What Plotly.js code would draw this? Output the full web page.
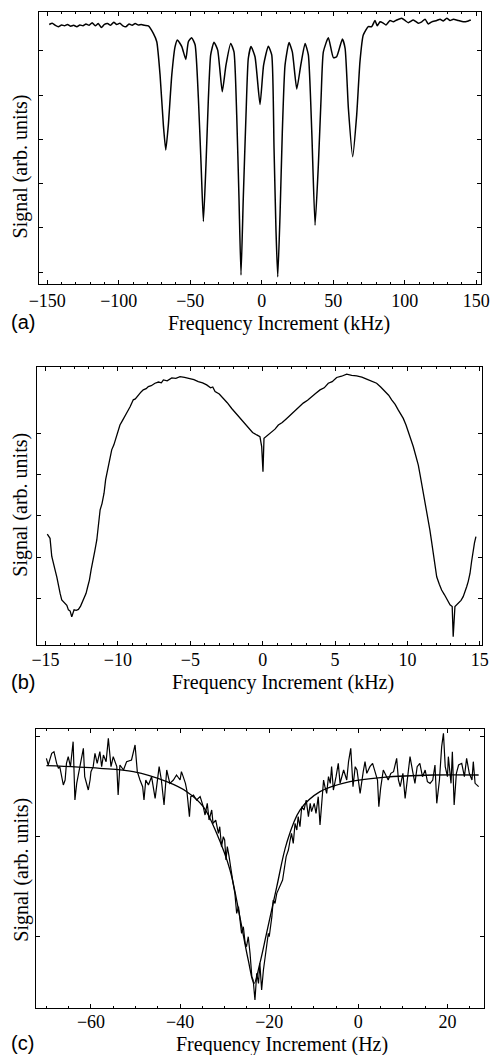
<!DOCTYPE html>
<html>
<head>
<meta charset="utf-8">
<script src="https://cdn.plot.ly/plotly-3.0.1.min.js"></script>
<style>html,body{margin:0;padding:0;background:#fff;}#plot{width:491px;height:1055px;}</style>
</head>
<body>
<div id="plot"></div>
<script>
// ---------- Panel (a): frequency increment (kHz) vs signal ----------
const aFreq = [-148.6,-146.5,-144.3,-142.2,-140.0,-137.9,-135.8,-133.6,-131.5,-129.3,-127.2,-125.0,-122.9,-120.7,-118.6,-116.4,-114.3,-112.1,-110.0,-107.8,-105.7,-103.5,-101.4,-99.2,-97.1,-94.9,-92.8,-90.6,-88.5,-86.3,-84.2,-82.0,-79.3,
  -75.8,-73.4,-71.1,-68.8,-67.1,-65.3,-62.9,-60.6,-59.0,-55.9,-53.1,-51.3,-49.0,-46.6,-44.3,-42.4,-40.8,-39.0,-37.3,-35.7,-33.4,-30.8,-27.6,-25.0,-21.7,-19.4,-17.5,-15.9,-14.5,-12.9,-11.0,-9.4,-7.5,-4.7,-1.2,1.3,4.6,7.0,8.6,10.0,11.2,12.8,14.4,16.3,19.1,21.4,24.5,27.3,30.3,32.6,35.0,37.3,39.6,41.5,43.1,46.6,50.1,52.4,56.4,58.3,60.6,63.6,66.4,68.7,71.0,
  74.5,76.9,79.2,80.8,82.7,85.0,86.9,89.7,92.0,94.4,97.9,100.2,102.5,106.0,109.5,111.9,114.2,116.5,118.9,122.4,124.7,127.0,129.4,131.7,134.0,137.5,141.0,144.5,146.2];
const aSignal = [6.60,6.63,6.58,6.55,6.59,6.57,6.60,6.56,6.58,6.55,6.59,6.57,6.61,6.58,6.64,6.57,6.62,6.53,6.60,6.62,6.58,6.65,6.60,6.63,6.57,6.55,6.61,6.58,6.62,6.59,6.60,6.58,6.57,
  6.40,6.21,5.46,4.33,3.76,4.33,5.46,6.10,6.25,6.10,5.81,6.21,6.30,6.14,4.93,3.42,2.14,3.42,4.93,5.91,6.20,6.02,5.08,5.68,6.17,5.98,4.55,2.67,0.93,2.67,4.55,5.83,6.10,5.87,4.79,5.68,6.11,5.91,3.80,1.91,0.89,2.29,4.17,5.68,6.19,5.98,5.14,5.68,6.17,5.91,4.17,2.06,3.42,4.93,5.98,6.30,5.85,5.87,6.27,6.06,4.70,3.61,4.55,5.76,6.36,
  6.55,6.55,6.69,6.57,6.66,6.63,6.59,6.69,6.66,6.70,6.74,6.69,6.64,6.70,6.63,6.66,6.72,6.61,6.66,6.69,6.72,6.68,6.74,6.69,6.72,6.69,6.66,6.68,6.70];
const aTickX = [-150,-100,-50,0,50,100,150];
const aTickY = [1,2,3,4,5,6];

// ---------- Panel (b) ----------
const bFreq = [-14.88,-14.69,-14.57,-14.45,-14.34,-14.22,-14.11,-13.99,-13.88,-13.76,-13.65,-13.53,-13.42,-13.30,-13.19,-13.11,-13.03,-12.88,-12.73,-12.58,-12.43,-12.30,-12.20,-12.08,-11.97,-11.85,-11.74,-11.60,-11.46,-11.35,-11.23,-11.10,-10.96,-10.85,-10.73,-10.58,-10.43,-10.28,-10.13,-10.00,-9.86,-9.70,-9.51,-9.35,-9.16,-9.05,-8.94,-8.80,-8.59,-8.40,-8.25,-8.05,-7.90,-7.70,-7.44,-7.20,-7.00,-6.86,-6.60,-6.28,-6.00,-5.71,-5.40,-5.02,-4.75,-4.45,-4.15,-3.87,-3.60,-3.45,-3.29,-3.00,-2.72,-2.45,-2.14,-1.85,-1.57,-1.30,-0.99,-0.70,-0.41,-0.19,-0.07,0.02,0.09,0.28,0.45,0.62,0.85,1.08,1.35,1.66,1.95,2.23,2.50,2.80,3.10,3.38,3.65,3.96,4.25,4.53,4.80,5.11,5.45,5.80,6.15,6.49,6.85,7.18,7.50,7.87,8.15,8.45,8.70,8.91,9.15,9.37,9.55,9.71,9.90,10.06,10.23,10.40,10.58,10.75,10.87,10.98,11.15,11.33,11.45,11.55,11.66,11.78,11.90,12.02,12.20,12.36,12.55,12.71,12.83,12.94,13.09,13.16,13.28,13.51,13.70,13.85,13.97,14.09,14.20,14.32,14.43,14.54,14.63,14.73];
const bSignal = [2.56,2.46,2.02,1.88,1.69,1.52,1.29,1.12,0.97,0.93,0.89,0.84,0.73,0.70,0.56,0.66,0.73,0.72,0.74,0.82,0.93,1.02,1.13,1.30,1.45,1.70,1.94,2.15,2.42,2.85,3.15,3.30,3.55,3.88,4.11,4.38,4.60,4.72,4.88,5.05,5.20,5.30,5.44,5.52,5.64,5.75,5.81,5.83,5.93,6.00,6.05,6.08,6.13,6.15,6.21,6.24,6.22,6.29,6.27,6.34,6.33,6.37,6.35,6.33,6.30,6.25,6.22,6.17,6.10,6.12,6.01,5.95,5.85,5.74,5.60,5.48,5.36,5.25,5.12,5.02,4.96,4.92,4.68,4.07,4.88,4.94,4.97,5.04,5.10,5.20,5.26,5.36,5.45,5.56,5.62,5.73,5.80,5.89,5.96,6.05,6.10,6.21,6.25,6.35,6.38,6.43,6.40,6.39,6.36,6.31,6.27,6.21,6.12,6.01,5.92,5.81,5.70,5.56,5.47,5.36,5.20,5.04,4.85,4.68,4.45,4.23,4.00,3.79,3.45,3.15,2.90,2.66,2.40,2.10,1.80,1.53,1.35,1.21,1.10,1.01,0.92,0.85,0.81,0.08,0.81,0.89,0.96,1.05,1.15,1.29,1.42,1.61,1.90,2.18,2.35,2.50];
const bTickX = [-15,-10,-5,0,5,10,15];
const bTickY = [1,2,3,4,5];

// ---------- Panel (c): data and fitted curve ----------
const cFreq = [-70.0,-69.6,-68.8,-68.3,-67.7,-67.3,-67.0,-66.2,-65.8,-65.5,-65.1,-64.6,-64.0,-63.6,-63.2,-62.5,-61.7,-61.4,-60.6,-60.2,-60.0,
  -59.5,-59.1,-58.6,-58.0,-57.6,-57.2,-56.6,-56.1,-55.5,-55.0,-54.2,-53.9,-53.5,-52.7,-52.0,-50.9,-50.1,
  -49.6,-49.0,-48.4,-48.1,-47.7,-47.1,-46.4,-45.6,-45.3,-44.7,-44.2,-43.6,-43.0,-42.3,-41.5,-40.8,-40.0,
  -39.7,-39.3,-38.8,-38.5,-37.9,-37.6,-37.0,-36.3,-35.5,-34.8,-34.4,-33.9,-33.5,-32.9,-32.6,-32.0,-31.4,-31.1,-30.7,-30.3,-30.0,
  -29.7,-29.4,-29.0,-28.7,-28.1,-27.7,-27.3,-26.9,-26.6,-26.2,-25.8,-25.4,-25.1,-24.7,-24.3,-23.9,-23.6,-23.2,-22.8,-22.4,-22.1,-21.7,-21.3,-20.9,-20.6,-20.2,-20.0,
  -19.4,-19.1,-18.7,-18.3,-17.6,-17.0,-16.2,-15.7,-15.3,-15.0,-14.6,-14.2,-13.8,-13.5,-13.1,-12.7,-12.2,-11.7,-11.2,-10.8,-10.5,-9.9,
  -9.5,-9.0,-8.6,-8.2,-7.8,-7.5,-7.1,-6.7,-6.3,-6.0,-5.6,-5.0,-4.5,-4.1,-3.3,-2.6,-2.2,-1.7,-1.2,-0.7,-0.3,0.0,
  0.4,1.1,1.5,1.9,2.6,3.2,3.7,4.3,4.6,5.0,5.6,6.2,6.7,7.3,7.9,8.6,9.0,9.4,10.0,
  10.5,11.0,11.6,12.2,12.7,13.2,13.8,14.4,15.0,15.5,16.1,16.7,17.2,17.6,18.2,18.7,19.1,19.5,20.0,
  20.2,20.8,21.1,21.5,22.0,22.5,23.2,23.8,24.3,24.9,25.5,25.8,26.2,26.6,27.0];
const cSignal = [825,805,840,845,810,795,800,745,760,810,830,800,875,700,750,800,855,770,730,760,785,
  800,840,810,845,800,835,815,885,800,830,800,715,805,790,815,820,865,
  785,760,740,700,760,745,770,705,740,800,760,685,790,750,760,775,760,
  785,770,750,730,650,710,715,700,710,680,655,690,640,670,630,640,600,620,560,590,580,
  520,560,530,500,450,420,360,380,350,300,320,270,260,290,240,170,160,100,180,150,210,130,190,230,260,300,290,
  350,400,390,420,440,460,530,550,580,600,570,630,610,650,620,680,670,700,650,690,665,690,
  660,710,625,710,760,740,720,770,750,800,730,770,810,750,790,760,815,855,740,800,790,760,
  720,785,815,780,800,810,790,760,680,735,790,775,760,780,785,825,760,740,780,
  705,770,830,785,750,800,810,770,790,755,750,760,805,690,760,860,900,800,770,
  830,750,845,685,780,805,810,770,825,780,760,815,750,745,740];
const cFitFreq = [-70.0,-58.0,-50.5,-43.0,-38.5,-34.8,-31.8,-28.8,-26.6,-24.7,-23.4,-22.1,-20.6,-18.3,-16.1,-13.1,-8.6,-1.9,5.6,16.8,27.0];
const cFitSignal = [803,795,785,755,725,680,600,490,350,220,150,210,300,440,570,670,725,755,768,775,775];
const cTickX = [-60,-40,-20,0,20];
const cTickY = [291,591,891];

// ---------- layout helpers (pixel frame positions) ----------
const W = 491, H = 1055;
const frames = {
  a: {l:38.8, r:480.8, t:12, b:283.5},
  b: {l:37.3, r:482.3, t:367.3, b:645},
  c: {l:35.7, r:484, t:729, b:1007.7}
};
function dx(f){ return [f.l/W, f.r/W]; }
function dy(f){ return [1-f.b/H, 1-f.t/H]; }

const serif = 'Liberation Serif';
const sans = 'Liberation Sans';
const tickFont = {family: serif, size: 18, color: '#000'};

function xax(f, range, tv, minorStep, standoff){
  return {domain: dx(f), range: range, tickvals: tv, ticktext: tv.map(v => v < 0 ? '\u2212' + Math.abs(v) : String(v)),
    ticks: 'inside', ticklen: 4, tickwidth: 1, tickcolor: '#000', ticklabelstandoff: standoff,
    minor: {dtick: minorStep, tick0: 0, ticks: 'inside', ticklen: 2, tickwidth: 1, tickcolor: '#000'},
    showline: true, linecolor: '#000', linewidth: 1, mirror: 'allticks',
    showgrid: false, zeroline: false, tickfont: tickFont, fixedrange: true};
}
function yax(f, range, tv, anchor){
  return {domain: dy(f), range: range, tickvals: tv, showticklabels: false,
    ticks: 'inside', ticklen: 4, tickwidth: 1, tickcolor: '#000',
    showline: true, linecolor: '#000', linewidth: 1, mirror: 'allticks',
    showgrid: false, zeroline: false, anchor: anchor, fixedrange: true};
}

const traces = [
  {x: aFreq, y: aSignal, xaxis: 'x', yaxis: 'y', mode: 'lines', line: {color: '#000', width: 1.5, shape: 'spline', smoothing: 0.5}, hoverinfo: 'skip'},
  {x: bFreq, y: bSignal, xaxis: 'x2', yaxis: 'y2', mode: 'lines', line: {color: '#000', width: 1.3}, hoverinfo: 'skip'},
  {x: cFreq, y: cSignal, xaxis: 'x3', yaxis: 'y3', mode: 'lines', line: {color: '#000', width: 1.2}, hoverinfo: 'skip'},
  {x: cFitFreq, y: cFitSignal, xaxis: 'x3', yaxis: 'y3', mode: 'lines', line: {color: '#000', width: 1.3, shape: 'spline', smoothing: 1}, hoverinfo: 'skip'}
];

function ann(text, px, py, font, angle){
  return {text: text, x: px/W, y: 1-py/H, xref: 'paper', yref: 'paper', xanchor: 'center', yanchor: 'middle',
    showarrow: false, font: font, textangle: angle || 0, borderpad: 0};
}
const titleFont = {family: serif, size: 20, color: '#000'};
const labelFont = {family: sans, size: 20, color: '#000'};

const layout = {
  width: W, height: H, margin: {l: 0, r: 0, t: 0, b: 0},
  paper_bgcolor: '#fff', plot_bgcolor: '#fff', showlegend: false,
  font: {family: serif, color: '#000'},
  xaxis: xax(frames.a, [-155.9, 153.2], aTickX, 10, 1),
  yaxis: yax(frames.a, [0.74, 6.882], aTickY, 'x'),
  xaxis2: xax(frames.b, [-15.57, 15.17], bTickX, 1, -2),
  yaxis2: yax(frames.b, [-0.12, 6.596], bTickY, 'x2'),
  xaxis3: xax(frames.c, [-72.4, 28.2], cTickX, 5, -2),
  yaxis3: yax(frames.c, [77, 913], cTickY, 'x3'),
  annotations: [
    ann('Frequency Increment (kHz)', 278.7, 323.5, titleFont),
    ann('Frequency Increment (kHz)', 283, 682.5, titleFont),
    ann('Frequency Increment (Hz)', 281.7, 1044, titleFont),
    ann('Signal (arb. units)', 20.7, 166.7, titleFont, -90),
    ann('Signal (arb. units)', 20.7, 505, titleFont, -90),
    ann('Signal (arb. units)', 20.7, 870, titleFont, -90),
    ann('(a)', 22.5, 322, labelFont),
    ann('(b)', 22.5, 681.7, labelFont),
    ann('(c)', 22.5, 1043.3, labelFont)
  ]
};
layout.xaxis.anchor = 'y';
layout.xaxis2.anchor = 'y2';
layout.xaxis3.anchor = 'y3';

Plotly.newPlot('plot', traces, layout, {staticPlot: true, displayModeBar: false});
</script>
</body>
</html>
